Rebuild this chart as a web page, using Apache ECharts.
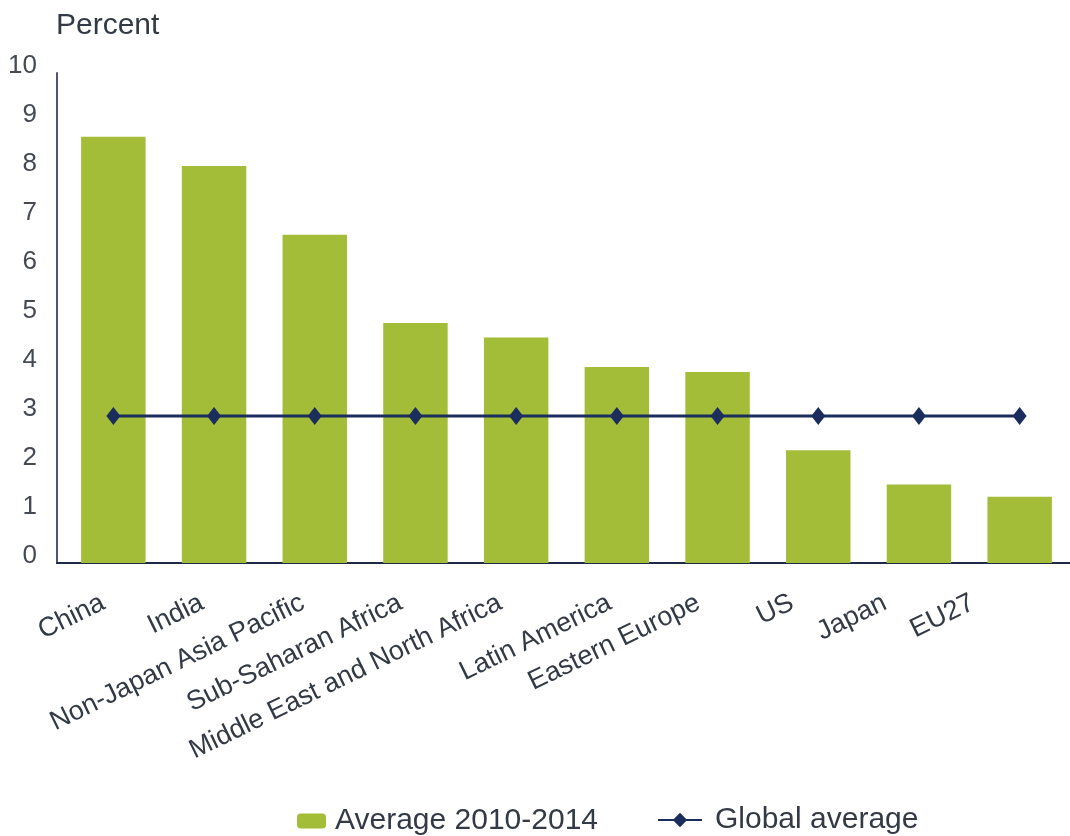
<!DOCTYPE html>
<html>
<head>
<meta charset="utf-8">
<script src="https://cdn.jsdelivr.net/npm/echarts@6/dist/echarts.min.js"></script>
<style>
html,body{margin:0;padding:0;background:#fff;}
#chart{width:1070px;height:836px;}
</style>
</head>
<body>
<div id="chart"></div>
<script>
const categories = ["China", "India", "Non-Japan Asia Pacific", "Sub-Saharan Africa", "Middle East and North Africa", "Latin America", "Eastern Europe", "US", "Japan", "EU27"];
const average20102014 = [8.7, 8.1, 6.7, 4.9, 4.6, 4.0, 3.9, 2.3, 1.6, 1.35];
const globalAverage = [3, 3, 3, 3, 3, 3, 3, 3, 3, 3];
const yMin = 0, yMax = 10, yInterval = 1;

// layout only: horizontal leftward shift (px) of each rotated category label
const labelShift = [10, 12, 12, 15, 16, 7, 19, 26, 34, 47];
const ROT = 26;
const rad = ROT * Math.PI / 180;
const BASE = 14;

const FONT = "'Liberation Sans', Arial, sans-serif";
const catData = categories.map((c, i) => {
  const dd = Math.max(0, labelShift[i] - BASE * Math.sin(rad));
  const p = dd * Math.cos(rad);
  const m = dd * Math.sin(rad);
  return {value: c, textStyle: {padding: [0, p, 0, 0], lineHeight: 2 * (m + BASE), verticalAlign: 'bottom'}};
});

const chart = echarts.init(document.getElementById('chart'), null, {renderer: 'canvas'});
chart.setOption({
  backgroundColor: '#ffffff',
  animation: false,
  textStyle: {fontFamily: FONT},
  title: {
    text: 'Percent', left: 51, top: 6,
    textStyle: {fontFamily: FONT, fontSize: 30, fontWeight: 'normal', color: '#333a45'}
  },
  legend: [
    {left: 292, top: 801, itemWidth: 29, itemHeight: 15, itemGap: 0,
     textStyle: {fontFamily: FONT, fontSize: 30, color: '#333a45', padding: [0, 0, 0, 4]},
     data: ['Average 2010-2014']},
    {left: 652, top: 800, itemWidth: 44, itemHeight: 18, itemGap: 0,
     textStyle: {fontFamily: FONT, fontSize: 30, color: '#333a45', padding: [0, 0, 0, 8]},
     data: ['Global average']}
  ],
  grid: [
    {left: 57, right: -8, top: 73, bottom: 273},
    {left: 63, right: -8, top: 73, bottom: 273}
  ],
  xAxis: [
    {gridIndex: 0, type: 'value', min: 0, max: 1,
     axisLine: {show: true, lineStyle: {color: '#1f2a44', width: 2}},
     axisTick: {show: false}, axisLabel: {show: false}, splitLine: {show: false}},
    {gridIndex: 1, type: 'category', data: catData,
     axisLine: {show: false}, axisTick: {show: false}, splitLine: {show: false},
     axisLabel: {rotate: ROT, fontSize: 27, color: '#333a45', margin: 51, fontFamily: FONT, interval: 0, verticalAlign: 'bottom'}}
  ],
  yAxis: [
    {gridIndex: 0, type: 'value', min: yMin, max: yMax, interval: yInterval,
     axisLine: {show: true, lineStyle: {color: '#4b5675', width: 2}},
     axisTick: {show: false}, splitLine: {show: false},
     axisLabel: {fontSize: 26, color: '#454a52', margin: 20, fontFamily: FONT, verticalAlign: 'bottom', lineHeight: 15}},
    {gridIndex: 1, type: 'value', min: yMin, max: yMax, interval: yInterval, show: false}
  ],
  series: [
    {name: 'Average 2010-2014', type: 'bar', xAxisIndex: 1, yAxisIndex: 1,
     data: average20102014, barWidth: '64%', itemStyle: {color: '#a3bd38'}},
    {name: 'Global average', type: 'line', xAxisIndex: 1, yAxisIndex: 1,
     data: globalAverage, symbol: 'diamond', symbolSize: [14, 18],
     lineStyle: {color: '#1b2d5c', width: 3}, itemStyle: {color: '#1b2d5c'}}
  ]
});
</script>
</body>
</html>
